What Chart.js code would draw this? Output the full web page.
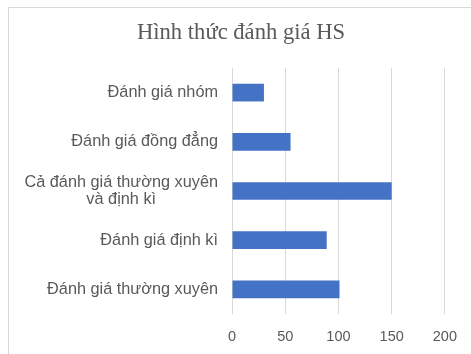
<!DOCTYPE html>
<html>
<head>
<meta charset="utf-8">
<script src="https://cdn.jsdelivr.net/npm/chart.js@4/dist/chart.umd.min.js"></script>
<style>
  html, body { margin: 0; padding: 0; background: #fff; }
  #wrap { position: relative; width: 471px; height: 354px; overflow: hidden; }
  /* khung mờ quanh biểu đồ */
  #frame { position: absolute; left: 8px; top: 7px; width: 500px; height: 400px;
           border-top: 1px solid #d9d9d9; border-left: 1px solid #d9d9d9; }
  canvas { position: absolute; left: 0; top: 0; }
</style>
</head>
<body>
<div id="wrap">
  <div id="frame"></div>
  <canvas id="chart" width="471" height="354"></canvas>
</div>
<script>
  const TITLE = 'Hình thức đánh giá HS';
  const CATEGORIES = [
    'Đánh giá nhóm',
    'Đánh giá đồng đẳng',
    ['Cả đánh giá thường xuyên', 'và định kì'],
    'Đánh giá định kì',
    'Đánh giá thường xuyên'
  ];
  const VALUES = [30, 55, 150, 89, 101];
  const X_MIN = 0;
  const X_MAX = 200;
  const X_STEP = 50;

  const TEXT_COLOR = '#595959';
  const BAR_COLOR = '#4472C4';
  const GRID_COLOR = '#d9d9d9';
  const SANS = '"Liberation Sans", Arial, sans-serif';
  const SERIF = '"Liberation Serif", "Times New Roman", serif';

  // Tiêu đề + nhãn trục dọc vẽ tay: nhãn nhiều dòng căn giữa từng dòng như Excel
  const labelsPlugin = {
    id: 'excelLabels',
    afterDraw(chart) {
      const ctx = chart.ctx;
      const area = chart.chartArea;
      const yScale = chart.scales.y;
      ctx.save();
      ctx.fillStyle = TEXT_COLOR;

      ctx.font = '22.6px ' + SERIF;
      ctx.textAlign = 'center';
      ctx.textBaseline = 'middle';
      ctx.fillText(TITLE, (8 + chart.width + 3) / 2, 33);

      const size = 16.3;
      const lineH = size * 1.1;
      ctx.font = size + 'px ' + SANS;
      const right = area.left - 14;
      CATEGORIES.forEach((label, i) => {
        const lines = Array.isArray(label) ? label : [label];
        const maxW = Math.max(...lines.map(l => ctx.measureText(l).width));
        const cx = right - maxW / 2;
        const cy = yScale.getPixelForTick(i);
        const y0 = cy - (lines.length - 1) * lineH / 2;
        lines.forEach((l, j) => ctx.fillText(l, cx, y0 + j * lineH));
      });
      ctx.restore();
    }
  };

  new Chart(document.getElementById('chart'), {
    type: 'bar',
    data: {
      labels: CATEGORIES,
      datasets: [{
        data: VALUES,
        backgroundColor: BAR_COLOR,
        borderWidth: 0,
        categoryPercentage: 0.8,
        barPercentage: 0.45
      }]
    },
    plugins: [labelsPlugin],
    options: {
      indexAxis: 'y',
      responsive: false,
      animation: false,
      layout: { padding: { top: 68, left: 8, right: 23, bottom: 0 } },
      plugins: {
        legend: { display: false },
        tooltip: { enabled: false },
        title: { display: false }
      },
      scales: {
        x: {
          min: X_MIN,
          max: X_MAX,
          afterFit: (scale) => { scale.height = 40; },
          ticks: {
            stepSize: X_STEP,
            color: TEXT_COLOR,
            padding: 14,
            font: { family: SANS, size: 14.5 }
          },
          grid: { color: GRID_COLOR, drawTicks: false },
          border: { display: false }
        },
        y: {
          afterFit: (scale) => { scale.width = 224; },
          ticks: { display: false },
          grid: { display: false, drawTicks: false },
          border: { display: false }
        }
      }
    }
  });
</script>
</body>
</html>
